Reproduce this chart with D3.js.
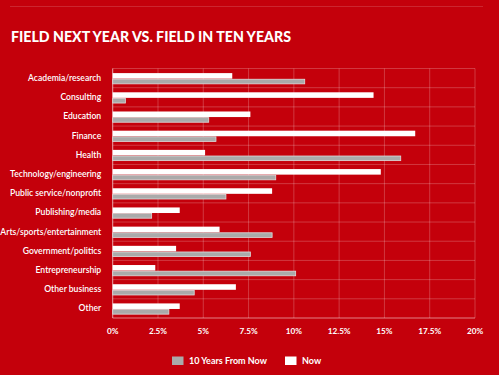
<!DOCTYPE html>
<html>
<head>
<meta charset="utf-8">
<script src="https://cdn.jsdelivr.net/npm/d3@7"></script>
<style>
  body { margin: 0; background: #c4000b; }
  svg { display: block; }
</style>
</head>
<body>
<div id="chart"></div>
<script>
const categories = ["Academia/research", "Consulting", "Education", "Finance", "Health",
    "Technology/engineering", "Public service/nonprofit", "Publishing/media",
    "Arts/sports/entertainment", "Government/politics", "Entrepreneurship",
    "Other business", "Other"];
const nowValues = [6.6, 14.4, 7.6, 16.7, 5.1, 14.8, 8.8, 3.7, 5.9, 3.5, 2.35, 6.8, 3.7];
const tenYearValues = [10.6, 0.7, 5.3, 5.7, 15.9, 9.0, 6.25, 2.15, 8.8, 7.6, 10.1, 4.5, 3.1];
const xTicks = [0, 2.5, 5, 7.5, 10, 12.5, 15, 17.5, 20];
const xTickLabels = ["0%", "2.5%", "5%", "7.5%", "10%", "12.5%", "15%", "17.5%", "20%"];

const W = 499, H = 375;
const margins = { top: 68.5, right: 24, bottom: 57, left: 112.7 };
const width = W - margins.left - margins.right;
const height = H - margins.top - margins.bottom;
const font = "Lato, 'Open Sans', sans-serif";

const svg = d3.select("#chart").append("svg")
    .attr("width", W)
    .attr("height", H);

svg.append("rect").attr("width", W).attr("height", H).attr("fill", "#c4000b");

svg.append("line")
    .attr("x1", 10).attr("x2", 483).attr("y1", 6.5).attr("y2", 6.5)
    .attr("stroke", "rgba(255,255,255,0.15)");

svg.append("text")
    .attr("x", 11).attr("y", 42)
    .attr("fill", "white")
    .attr("font-family", font)
    .attr("font-weight", 900)
    .attr("font-size", "14.5px")
    .attr("textLength", 280)
    .attr("lengthAdjust", "spacingAndGlyphs")
    .text("FIELD NEXT YEAR VS. FIELD IN TEN YEARS");

const g = svg.append("g")
    .attr("transform", `translate(${margins.left}, ${margins.top})`);

const xScale = d3.scaleLinear().domain([0, 20]).range([0, width]);
const yScale = d3.scaleBand().domain(categories).range([0, height]);

// grid
g.selectAll(".vgrid")
    .data(xTicks)
    .join("line")
    .attr("x1", d => xScale(d)).attr("x2", d => xScale(d))
    .attr("y1", 0).attr("y2", height)
    .attr("stroke", "rgba(255,255,255,0.22)");

g.selectAll(".hgrid")
    .data(categories)
    .join("line")
    .attr("x1", 0).attr("x2", width)
    .attr("y1", d => yScale(d)).attr("y2", d => yScale(d))
    .attr("stroke", "rgba(255,255,255,0.22)");

g.append("line")
    .attr("x1", 0).attr("x2", 0).attr("y1", 0).attr("y2", height)
    .attr("stroke", "rgba(255,255,255,0.5)");
g.append("line")
    .attr("x1", 0).attr("x2", width).attr("y1", height).attr("y2", height)
    .attr("stroke", "rgba(255,255,255,0.5)");

const bw = yScale.bandwidth();

g.selectAll(".now")
    .data(categories)
    .join("rect")
    .attr("x", 0)
    .attr("y", d => yScale(d) + bw * 0.24)
    .attr("width", (d, i) => xScale(nowValues[i]))
    .attr("height", bw * 0.29)
    .attr("fill", "white");

g.selectAll(".ten")
    .data(categories)
    .join("rect")
    .attr("x", 0)
    .attr("y", d => yScale(d) + bw * 0.56)
    .attr("width", (d, i) => xScale(tenYearValues[i]))
    .attr("height", bw * 0.24)
    .attr("fill", "#aaaaaa")
    .attr("stroke", "#dcdcdc")
    .attr("stroke-width", 0.8);

// y labels
g.selectAll(".ylabel")
    .data(categories)
    .join("text")
    .attr("x", -11.5)
    .attr("y", d => yScale(d) + bw / 2 + 3)
    .attr("text-anchor", "end")
    .attr("fill", "white")
    .attr("font-family", font)
    .attr("font-weight", 600)
    .attr("font-size", "8.6px")
    .text(d => d);

// x labels
g.selectAll(".xlabel")
    .data(xTicks)
    .join("text")
    .attr("x", d => xScale(d))
    .attr("y", height + 15.5)
    .attr("text-anchor", "middle")
    .attr("fill", "white")
    .attr("font-family", font)
    .attr("font-weight", 700)
    .attr("font-size", "8.2px")
    .text((d, i) => xTickLabels[i]);

// legend
const legend = [
    { label: "10 Years From Now", color: "#aaaaaa", x: 172 },
    { label: "Now", color: "white", x: 285 }
];
const lg = svg.selectAll(".legend")
    .data(legend)
    .join("g")
    .attr("transform", d => `translate(${d.x}, 356.5)`);
lg.append("rect")
    .attr("width", 11.5).attr("height", 8.5)
    .attr("fill", d => d.color);
lg.append("text")
    .attr("x", 17).attr("y", 7.8)
    .attr("fill", "white")
    .attr("font-family", font)
    .attr("font-weight", 700)
    .attr("font-size", "9px")
    .text(d => d.label);
</script>
</body>
</html>
